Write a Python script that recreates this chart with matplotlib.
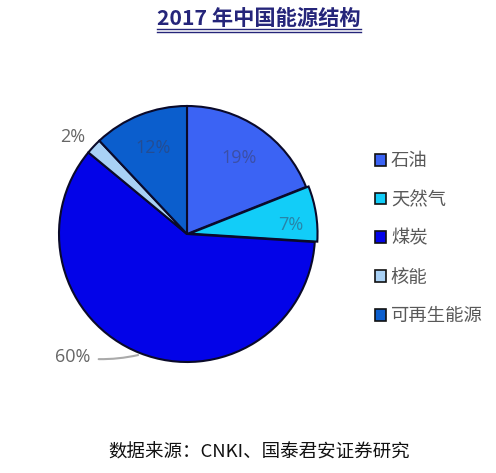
import numpy as np
import matplotlib
matplotlib.use("Agg")
import matplotlib.pyplot as plt
from matplotlib.lines import Line2D
from matplotlib.patches import Patch

plt.rcParams['font.family'] = ['Noto Sans CJK SC', 'DejaVu Sans']

categories = ['石油', '天然气', '煤炭', '核能', '可再生能源']
values = [19, 7, 60, 2, 12]
colors = ['#3b63f4', '#12cdf8', '#0303e8', '#a9d1f5', '#0b5ecd']
title = '2017 年中国能源结构'
source = '数据来源：CNKI、国泰君安证券研究'

W, H = 496, 473
fig = plt.figure(figsize=(W / 100, H / 100), dpi=100)

cx, cy, R = 187, 234, 128
half = R * 1.1
ax = fig.add_axes([(cx - half) / W, (H - cy - half) / H, 2 * half / W, 2 * half / H])

explode = [0.0, 0.02, 0, 0, 0]
wedges, _ = ax.pie(values, colors=colors, startangle=90, counterclock=False,
                   explode=explode, radius=1.0,
                   wedgeprops=dict(edgecolor='#0a0a2a', linewidth=1.5))
ax.set_xlim(-1.1, 1.1)
ax.set_ylim(-1.1, 1.1)
ax.axis('off')

pct_font = ['Open Sans', 'DejaVu Sans']
label_r = {0: 0.72, 1: 0.82, 4: 0.72}
for i, w in enumerate(wedges):
    mid = np.deg2rad((w.theta1 + w.theta2) / 2)
    txt = f'{values[i]}%'
    if i in (0, 1, 4):
        r = label_r[i]
        x, y = r * np.cos(mid), r * np.sin(mid) - (0.06 if i == 1 else 0)
        ax.text(x, y, txt, ha='center', va='center', fontsize=13,
                color='#3c3c5a', alpha=0.5, family=pct_font)
    elif i == 3:
        ang = mid + np.deg2rad(2)
        x, y = 1.16 * np.cos(ang), 1.16 * np.sin(ang)
        ax.text(x - 0.02, y - 0.01, txt, ha='center', va='center', fontsize=13,
                color='#666666', family=pct_font)
    else:
        ang = np.deg2rad(-133)
        tx, ty = 1.31 * np.cos(ang), 1.31 * np.sin(ang)
        ex, ey = 1.02 * np.cos(np.deg2rad(-112)), 1.02 * np.sin(np.deg2rad(-112))
        ax.annotate(txt, xy=(ex, ey), xytext=(tx, ty), ha='center', va='center',
                    fontsize=13, color='#666666', family=pct_font,
                    annotation_clip=False,
                    arrowprops=dict(arrowstyle='-', color='#aaaaaa', lw=1.5,
                                    shrinkA=4, shrinkB=0,
                                    connectionstyle='arc3,rad=0.1'))

# Title with double underline
fig.text(259 / W, 1 - 18 / H, title, ha='center', va='center', fontsize=15.3,
         fontweight='bold', color='#25257a')
for yy in (29.5, 32.5):
    fig.add_artist(Line2D([157 / W, 361 / W], [1 - yy / H, 1 - yy / H],
                          color='#25257a', lw=1.0))

# Legend
handles = [Patch(facecolor=c, edgecolor='#111111', linewidth=1.2) for c in colors]
leg = fig.legend(handles, categories, loc='upper left',
                 bbox_to_anchor=(368 / W, 1 - 145 / H), frameon=False,
                 fontsize=13.2, labelcolor='#595959', handlelength=0.6,
                 handleheight=0.6, handletextpad=0.25, labelspacing=1.13,
                 borderaxespad=0)

fig.text(259 / W, 1 - 453 / H, source, ha='center', va='center', fontsize=13.3,
         color='#111111')

fig.savefig('out.png', dpi=100, facecolor='white')
